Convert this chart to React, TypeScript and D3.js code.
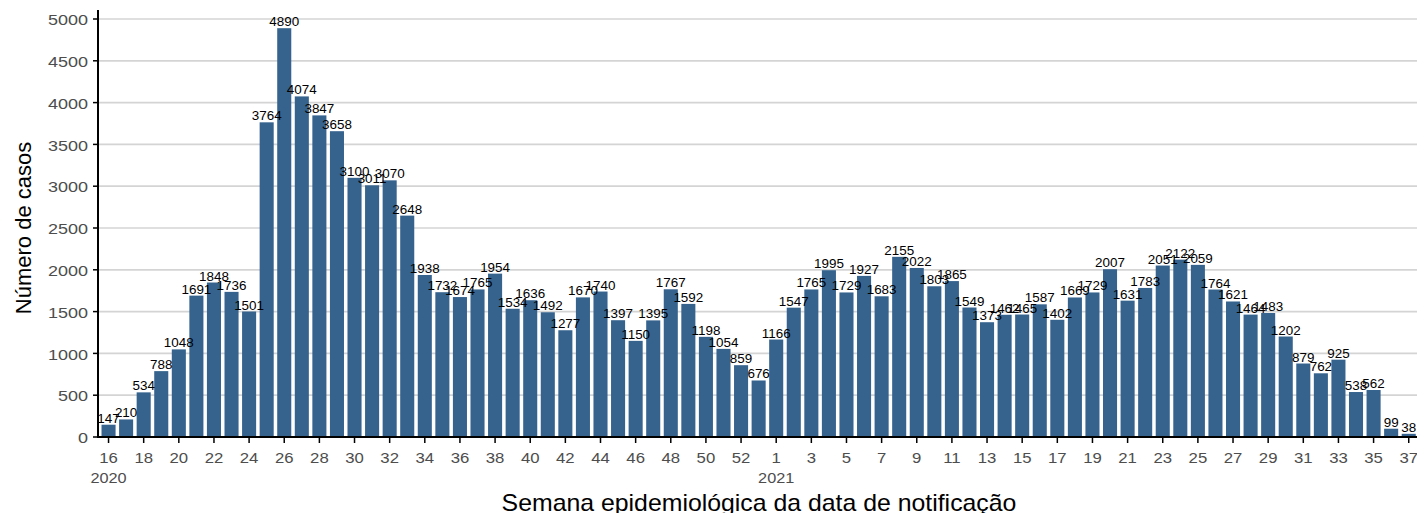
import React from 'react';
import * as d3 from 'd3';

// semanas epidemiológicas
const weeks2020 = d3.range(16, 54);
const weeks2021 = d3.range(1, 38);

const cases2020 = [
  147, 210, 534, 788, 1048, 1691, 1848, 1736, 1501, 3764, 4890, 4074, 3847, 3658, 3100, 3011, 3070, 2648, 1938,
  1732, 1674, 1765, 1954, 1534, 1636, 1492, 1277, 1670, 1740, 1397, 1150, 1395, 1767, 1592, 1198, 1054, 859, 676,
];
const cases2021 = [
  1166, 1547, 1765, 1995, 1729, 1927, 1683, 2155, 2022, 1803, 1865, 1549, 1373, 1462, 1465, 1587, 1402, 1669,
  1729, 2007, 1631, 1783, 2051, 2122, 2059, 1764, 1621, 1464, 1483, 1202, 879, 762, 925, 538, 562, 99, 38,
];
const yTicks = [0, 500, 1000, 1500, 2000, 2500, 3000, 3500, 4000, 4500, 5000];

interface Bar {
  key: string;
  year: number;
  week: number;
  value: number;
}

const bars: Bar[] = [
  ...weeks2020.map((w, i) => ({ key: `2020-${w}`, year: 2020, week: w, value: cases2020[i] })),
  ...weeks2021.map((w, i) => ({ key: `2021-${w}`, year: 2021, week: w, value: cases2021[i] })),
];

const W = 1417;
const H = 513;
const left = 98;
const step = 17.57;
const bottom = 437;
const top = 19;

// texto com leve esticamento horizontal (o original parece mais largo)
const Txt: React.FC<{
  x: number;
  y: number;
  sx?: number;
  size: number;
  anchor?: string;
  fill?: string;
  dy?: string;
  children: React.ReactNode;
}> = ({ x, y, sx = 1, size, anchor = 'middle', fill = '#000', dy, children }) => (
  <text transform={`translate(${x},${y}) scale(${sx},1)`} dy={dy} textAnchor={anchor} fontSize={size} fill={fill}>
    {children}
  </text>
);

const App: React.FC = () => {
  const x = d3
    .scaleBand<string>()
    .domain(bars.map((d) => d.key))
    .range([left, left + step * (bars.length + 0.2)])
    .paddingInner(0.2)
    .paddingOuter(0.2);

  const y = d3.scaleLinear().domain([0, 5000]).range([bottom, top]);

  // ticks a cada 2 semanas, como no original
  const tickBars = bars.filter((d) => (d.year === 2020 ? (d.week - 16) % 2 === 0 : (d.week - 1) % 2 === 0));
  const cx = (d: Bar) => (x(d.key) ?? 0) + x.bandwidth() / 2;

  return (
    <svg
      width={W}
      height={H}
      style={{ position: 'fixed', top: 0, left: 0, background: '#fff' }}
      fontFamily="'Liberation Sans', Arial, sans-serif"
    >
      {yTicks.map((t) => (
        <line key={t} x1={left} x2={W} y1={y(t)} y2={y(t)} stroke="#d4d4d4" strokeWidth={1.7} />
      ))}
      {bars.map((d) => (
        <rect
          key={d.key}
          x={x(d.key)}
          y={y(d.value)}
          width={x.bandwidth()}
          height={bottom - y(d.value)}
          fill="#35638e"
        />
      ))}
      {bars.map((d) => (
        <Txt key={d.key} x={cx(d)} y={y(d.value) - 2} sx={1.12} size={12}>
          {d.value}
        </Txt>
      ))}
      {/* eixos */}
      <line x1={left} x2={left} y1={10} y2={bottom + 1} stroke="#000" strokeWidth={2} />
      <line x1={left - 1} x2={W} y1={bottom} y2={bottom} stroke="#000" strokeWidth={2} />
      {yTicks.map((t) => (
        <g key={t}>
          <line x1={left - 5} x2={left} y1={y(t)} y2={y(t)} stroke="#000" strokeWidth={1.5} />
          <Txt x={left - 10} y={y(t) + 1} dy="0.35em" sx={1.2} size={15} anchor="end" fill="#4d4d4d">
            {t}
          </Txt>
        </g>
      ))}
      {tickBars.map((d) => (
        <g key={d.key}>
          <line x1={cx(d)} x2={cx(d)} y1={bottom} y2={bottom + 6} stroke="#000" strokeWidth={1.5} />
          <Txt x={cx(d)} y={463} sx={1.08} size={15.5} fill="#4d4d4d">
            {d.week}
          </Txt>
          {(d.year === 2020 && d.week === 16) || (d.year === 2021 && d.week === 1) ? (
            <Txt x={cx(d)} y={483} sx={1.05} size={15.5} fill="#4d4d4d">
              {d.year}
            </Txt>
          ) : null}
        </g>
      ))}
      <Txt x={759} y={511} sx={1.08} size={23}>
        Semana epidemiológica da data de notificação
      </Txt>
      <text transform={`translate(31, ${(top + bottom) / 2}) rotate(-90)`} textAnchor="middle" fontSize={22} fill="#000">
        Número de casos
      </text>
    </svg>
  );
};

export default App;
